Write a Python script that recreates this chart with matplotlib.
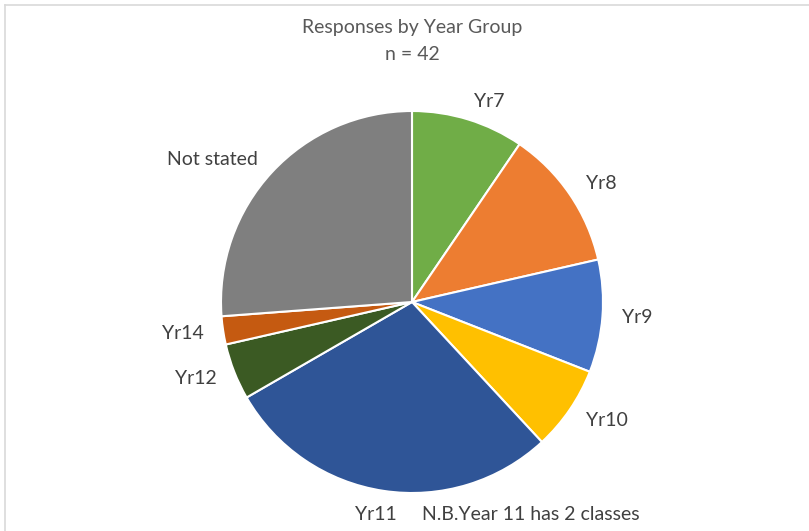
import matplotlib.pyplot as plt
import numpy as np

plt.rcParams['font.family'] = ['Lato', 'DejaVu Sans']

# Datos: respuestas por grupo de año (n = 42)
grupos = ['Yr7', 'Yr8', 'Yr9', 'Yr10', 'Yr11', 'Yr12', 'Yr14', 'Not stated']
respuestas = [4, 5, 4, 3, 12, 2, 1, 11]
colores = ['#70AD47', '#ED7D31', '#4472C4', '#FFC000', '#2F5597',
           '#3B5A23', '#C55A11', '#7F7F7F']
nota_yr11 = 'N.B.Year 11 has 2 classes'

W, H = 809, 531
fs = 14
fig = plt.figure(figsize=(W / 100, H / 100), dpi=100)
ax = fig.add_axes([0, 0, 1, 1])
ax.set_xlim(0, W)
ax.set_ylim(0, H)
ax.axis('off')

# borde del area del grafico (solo arriba e izquierda visibles)
ax.plot([5, W], [H - 5, H - 5], color='#D9D9D9', lw=1.2)
ax.plot([5, 5], [0, H - 5], color='#D9D9D9', lw=1.2)

cx, cy, r = 412, H - 302, 191
wedges, textos = ax.pie(respuestas, labels=grupos, colors=colores,
                        startangle=90, counterclock=False,
                        center=(cx, cy), radius=r, labeldistance=1.1,
                        wedgeprops=dict(edgecolor='white', linewidth=1.5),
                        textprops=dict(fontsize=fs, color='#404040'))
ax.set_xlim(0, W)
ax.set_ylim(0, H)
ax.set_aspect('equal')

# alinear las etiquetas del lado izquierdo a la derecha
for t in textos:
    x, y = t.get_position()
    t.set_ha('right' if x < cx else 'left')

# etiqueta de Yr11 movida abajo, junto con la nota
i11 = grupos.index('Yr11')
textos[i11].set_position((cx - 57, cy - 213))
textos[i11].set_ha('left')
textos[i11].set_va('center')
ax.text(cx + 10, cy - 213, nota_yr11, ha='left', va='center',
        fontsize=fs, color='#404040')

ax.text(W / 2 + 8, H - 28, 'Responses by Year Group', ha='center', va='center',
        fontsize=fs, color='#595959')
ax.text(W / 2 + 8, H - 55, 'n = 42', ha='center', va='center',
        fontsize=fs, color='#595959')

fig.savefig('out.png', dpi=100)
